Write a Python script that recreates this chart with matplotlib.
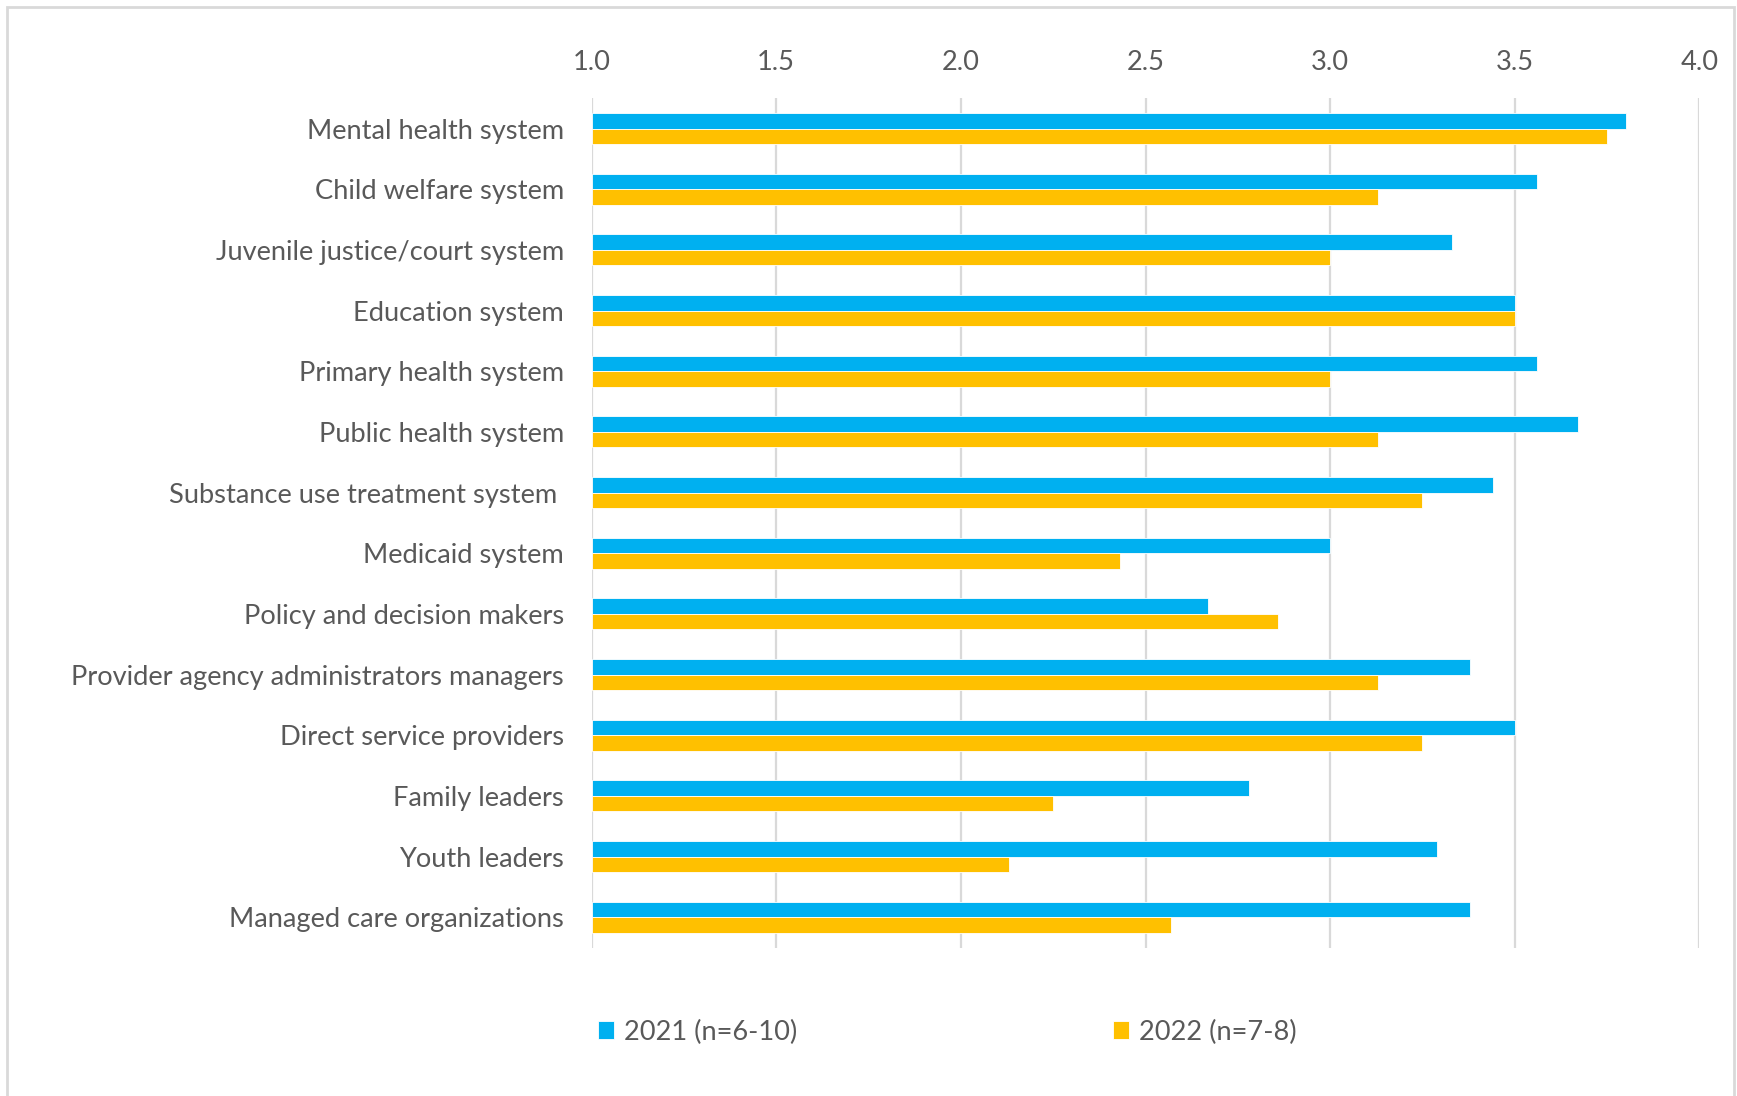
import numpy as np
import matplotlib.pyplot as plt
from matplotlib.patches import Rectangle

plt.rcParams["font.family"] = ["Lato", "DejaVu Sans"]

categories = [
    "Mental health system",
    "Child welfare system",
    "Juvenile justice/court system",
    "Education system",
    "Primary health system",
    "Public health system",
    "Substance use treatment system ",
    "Medicaid system",
    "Policy and decision makers",
    "Provider agency administrators managers",
    "Direct service providers",
    "Family leaders",
    "Youth leaders",
    "Managed care organizations",
]
scores_2021 = [3.80, 3.56, 3.33, 3.50, 3.56, 3.67, 3.44, 3.00, 2.67, 3.38, 3.50, 2.78, 3.29, 3.38]
scores_2022 = [3.75, 3.13, 3.00, 3.50, 3.00, 3.13, 3.25, 2.43, 2.86, 3.13, 3.25, 2.25, 2.13, 2.57]
series_labels = ["2021 (n=6-10)", "2022 (n=7-8)"]
x_ticks = [1.0, 1.5, 2.0, 2.5, 3.0, 3.5, 4.0]

BLUE = "#00B0F0"
GOLD = "#FFC000"
TEXT = "#595959"
GRID = "#D9D9D9"
FS = 19.6

W, H = 1737, 1096
fig = plt.figure(figsize=(W / 100, H / 100), dpi=100)

# chart-area outline (open at the bottom, cut by the page edge)
fig.patches.append(Rectangle((7 / W, -0.01), 1727 / W, 1.01 - 7 / H,
                             transform=fig.transFigure, fill=False,
                             edgecolor=GRID, linewidth=2))

ax = fig.add_axes([591.6 / W, 1 - 947.6 / H, 1107.8 / W, 849.4 / H])

y = np.arange(len(categories))
h = 0.255
b1 = ax.barh(y - h / 2, np.array(scores_2021) - 1.0, height=h, left=1.0,
             color=BLUE, edgecolor="white", linewidth=0.6, label=series_labels[0], zorder=3)
b2 = ax.barh(y + h / 2, np.array(scores_2022) - 1.0, height=h, left=1.0,
             color=GOLD, edgecolor="white", linewidth=0.6, label=series_labels[1], zorder=3)

ax.set_xlim(1.0, 4.0)
ax.set_ylim(len(categories) - 0.5, -0.5)
ax.set_xticks(x_ticks)
ax.set_xticklabels([f"{t:.1f}" for t in x_ticks])
ax.xaxis.tick_top()
ax.set_yticks(y)
ax.set_yticklabels(categories)
ax.tick_params(axis="x", length=0, pad=17, labelsize=FS, labelcolor=TEXT)
ax.tick_params(axis="y", length=0, pad=20, labelsize=FS, labelcolor=TEXT)
ax.grid(axis="x", color=GRID, linewidth=1.6, zorder=0)
for s in ax.spines.values():
    s.set_visible(False)

fig.legend(handles=[b1, b2], loc="center left",
           bbox_to_anchor=(598 / W, 1 - 1032 / H), ncol=2, frameon=False,
           fontsize=FS, labelcolor=TEXT, handlelength=0.6, handleheight=0.6,
           handletextpad=0.35, columnspacing=11.6, borderpad=0, borderaxespad=0)

fig.savefig("out.png", dpi=100)
